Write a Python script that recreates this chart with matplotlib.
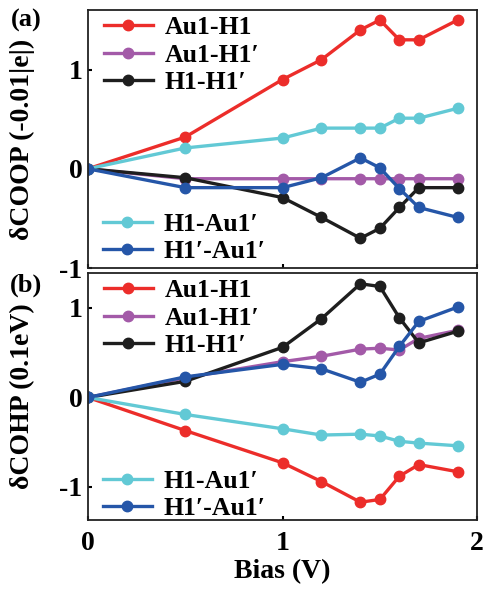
import matplotlib
matplotlib.use('Agg')
import matplotlib.pyplot as plt
import numpy as np

bias = [0, 0.5, 1.0, 1.2, 1.4, 1.5, 1.6, 1.7, 1.9]

# panel (a): dCOOP in units of -0.01|e|
coop_au1_h1 = [0, 0.32, 0.90, 1.10, 1.40, 1.50, 1.30, 1.30, 1.50]
coop_au1_h1p = [0, -0.10, -0.10, -0.10, -0.10, -0.10, -0.10, -0.10, -0.10]
coop_h1_h1p = [0, -0.09, -0.29, -0.49, -0.70, -0.60, -0.39, -0.19, -0.19]
coop_h1_au1p = [0, 0.21, 0.31, 0.41, 0.41, 0.41, 0.51, 0.51, 0.61]
coop_h1p_au1p = [0, -0.19, -0.19, -0.09, 0.11, 0.01, -0.20, -0.39, -0.49]

# panel (b): dCOHP in units of 0.1 eV
cohp_au1_h1 = [0, -0.37, -0.73, -0.94, -1.17, -1.14, -0.88, -0.75, -0.83]
cohp_au1_h1p = [0, 0.22, 0.40, 0.46, 0.54, 0.55, 0.53, 0.66, 0.75]
cohp_h1_h1p = [0, 0.18, 0.56, 0.88, 1.27, 1.24, 0.89, 0.61, 0.74]
cohp_h1_au1p = [0, -0.19, -0.35, -0.42, -0.41, -0.43, -0.49, -0.51, -0.54]
cohp_h1p_au1p = [0, 0.23, 0.37, 0.32, 0.17, 0.26, 0.57, 0.85, 1.01]

labels = ['Au1-H1', 'Au1-H1\u2032', 'H1-H1\u2032', 'H1-Au1\u2032', 'H1\u2032-Au1\u2032']
colors = ['#ec2d2a', '#a35aa8', '#1e1e1e', '#62c9d5', '#2556a8']

plt.rcParams['font.family'] = ['Liberation Serif', 'DejaVu Serif']
plt.rcParams['font.weight'] = 'bold'
plt.rcParams['axes.labelweight'] = 'bold'

fig = plt.figure(figsize=(4.83, 5.91), dpi=100)
ax_a = fig.add_axes([0.182, 0.5465, 0.806, 0.4365])
ax_b = fig.add_axes([0.182, 0.120, 0.806, 0.418])

leg_kw = dict(frameon=False, fontsize=18.5, handlelength=1.9, labelspacing=0.17,
              borderpad=0.15, handletextpad=0.45)


def draw_panel(ax, series, ylim, ylabel, lower_y):
    lines = []
    for y, c, lab in zip(series, colors, labels):
        l, = ax.plot(bias, y, '-o', color=c, lw=2.4, ms=7.5, label=lab)
        lines.append(l)
    ax.set_xlim(0, 2)
    ax.set_ylim(*ylim)
    ax.set_yticks([-1, 0, 1])
    ax.set_yticklabels(['-1', '0', '1'])
    ax.set_xticks([0, 1, 2])
    ax.tick_params(direction='in', length=3, width=1.5, labelsize=20,
                   top=False, right=False)
    ax.tick_params(axis='y', pad=4)
    ax.tick_params(axis='x', pad=8)
    for s in ax.spines.values():
        s.set_linewidth(1.3)
        s.set_color('#222222')
    ax.set_ylabel(ylabel, fontsize=20)
    ax.yaxis.set_label_coords(-0.135, 0.5)

    leg1 = ax.legend(lines[:3], labels[:3], loc='upper left',
                     borderaxespad=0.1, bbox_to_anchor=(0.025, 1.0), **leg_kw)
    ax.add_artist(leg1)
    ax.legend(lines[3:], labels[3:], loc='lower left',
              borderaxespad=0.05, bbox_to_anchor=(0.025, lower_y), **leg_kw)


draw_panel(ax_a, [coop_au1_h1, coop_au1_h1p, coop_h1_h1p, coop_h1_au1p, coop_h1p_au1p],
           (-0.98, 1.6), '\u03b4COOP (-0.01|e|)', 0.0)
draw_panel(ax_b, [cohp_au1_h1, cohp_au1_h1p, cohp_h1_h1p, cohp_h1_au1p, cohp_h1p_au1p],
           (-1.37, 1.39), '\u03b4COHP (0.1eV)', -0.021)

ax_a.set_xticklabels([])
ax_b.set_xticklabels(['0', '1', '2'])
ax_b.set_xlabel('Bias (V)', fontsize=20, labelpad=2)

fig.text(0.054, 0.966, '(a)', fontsize=19, fontweight='bold', ha='center', va='center')
fig.text(0.054, 0.517, '(b)', fontsize=19, fontweight='bold', ha='center', va='center')

fig.savefig('out.png', dpi=100)
